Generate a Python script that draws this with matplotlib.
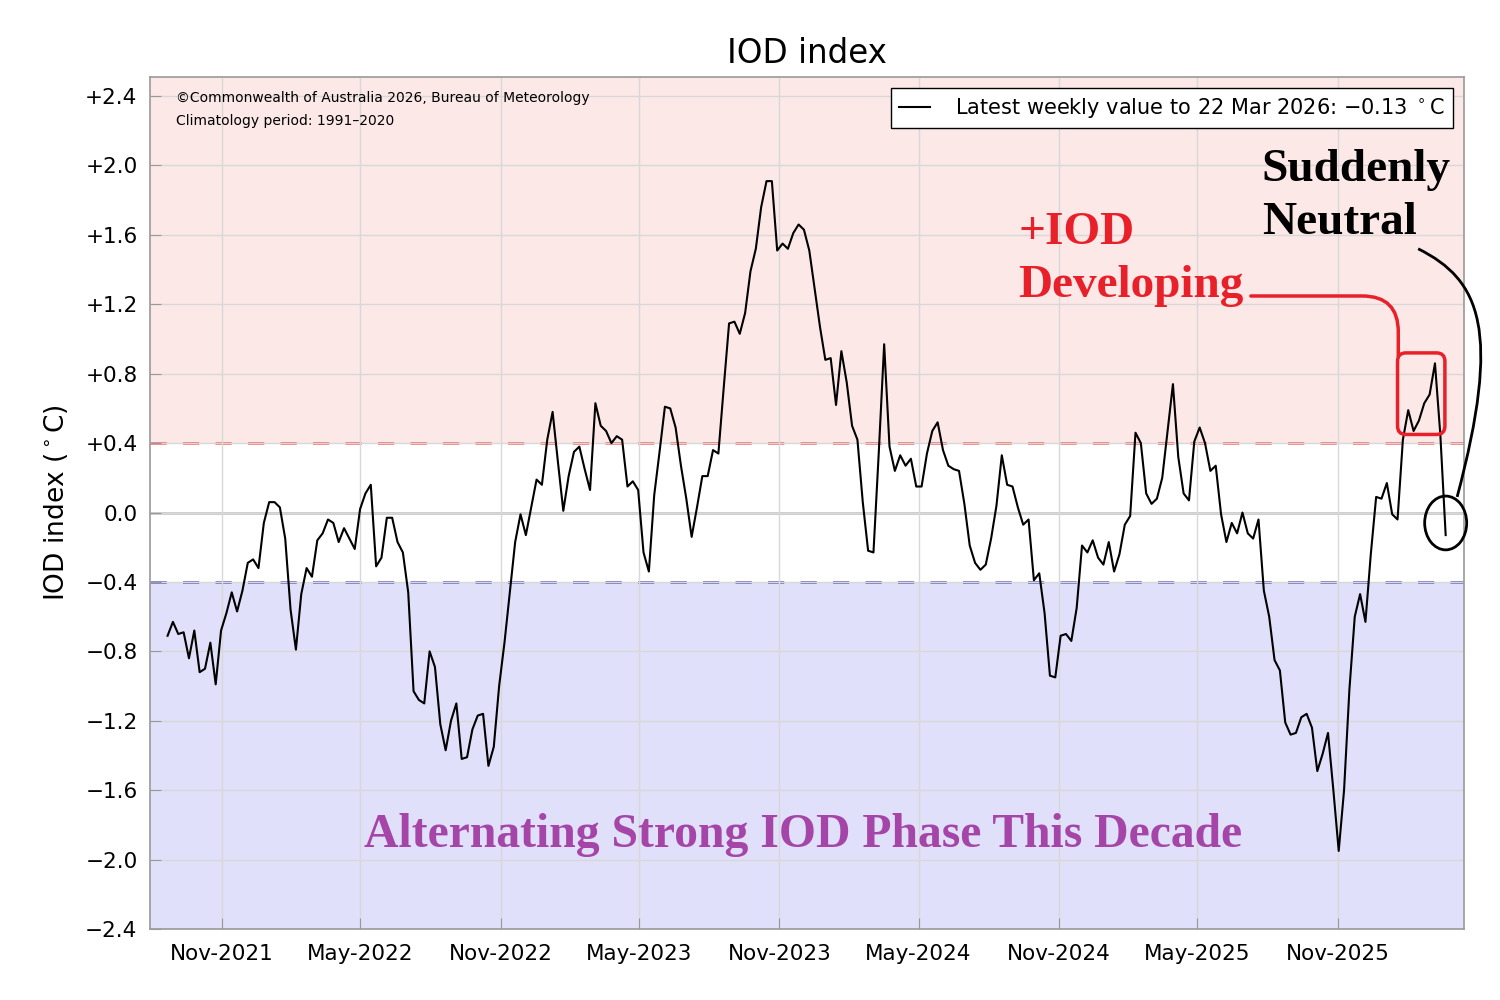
# IOD index weekly values with annotations (BoM style chart)

import numpy as np
import pandas as pd
import matplotlib
matplotlib.use('Agg')
import matplotlib.pyplot as plt
import matplotlib.dates as mdates
from matplotlib.ticker import FixedLocator, FuncFormatter
from matplotlib.patches import Ellipse, FancyBboxPatch, PathPatch
from matplotlib.path import Path

# weekly IOD values (degC), ending 22 Mar 2026
iod = [
    -0.71, -0.63, -0.70, -0.69, -0.84, -0.68, -0.92, -0.90, -0.75, -0.99,
    -0.68, -0.58, -0.46, -0.57, -0.45, -0.29, -0.27, -0.32, -0.06, 0.06,
    0.06, 0.03, -0.15, -0.56, -0.79, -0.47, -0.32, -0.37, -0.16, -0.12,
    -0.04, -0.06, -0.17, -0.09, -0.15, -0.21, 0.02, 0.11, 0.16, -0.31,
    -0.26, -0.03, -0.03, -0.17, -0.23, -0.46, -1.03, -1.08, -1.10, -0.80,
    -0.89, -1.22, -1.37, -1.20, -1.10, -1.42, -1.41, -1.25, -1.17, -1.16,
    -1.46, -1.35, -1.00, -0.75, -0.46, -0.17, -0.01, -0.13, 0.03, 0.19,
    0.16, 0.42, 0.58, 0.29, 0.01, 0.21, 0.35, 0.38, 0.25, 0.13,
    0.63, 0.50, 0.47, 0.40, 0.44, 0.42, 0.15, 0.18, 0.13, -0.23,
    -0.34, 0.10, 0.35, 0.61, 0.60, 0.49, 0.27, 0.08, -0.14, 0.03,
    0.21, 0.21, 0.36, 0.34, 0.72, 1.09, 1.10, 1.03, 1.15, 1.39,
    1.52, 1.76, 1.91, 1.91, 1.51, 1.55, 1.52, 1.61, 1.66, 1.63,
    1.51, 1.29, 1.07, 0.88, 0.89, 0.62, 0.93, 0.75, 0.50, 0.42,
    0.06, -0.22, -0.23, 0.35, 0.97, 0.38, 0.24, 0.33, 0.27, 0.31,
    0.15, 0.15, 0.34, 0.47, 0.52, 0.36, 0.27, 0.25, 0.24, 0.05,
    -0.19, -0.29, -0.33, -0.30, -0.15, 0.04, 0.33, 0.16, 0.15, 0.03,
    -0.07, -0.04, -0.39, -0.35, -0.58, -0.94, -0.95, -0.71, -0.70, -0.74,
    -0.55, -0.19, -0.23, -0.16, -0.26, -0.30, -0.17, -0.34, -0.24, -0.07,
    -0.02, 0.46, 0.40, 0.11, 0.05, 0.08, 0.20, 0.47, 0.74, 0.32,
    0.11, 0.07, 0.41, 0.49, 0.40, 0.24, 0.27, -0.01, -0.17, -0.06,
    -0.12, 0.00, -0.12, -0.15, -0.04, -0.45, -0.60, -0.85, -0.91, -1.21,
    -1.28, -1.27, -1.18, -1.16, -1.24, -1.49, -1.39, -1.27, -1.60, -1.95,
    -1.60, -1.02, -0.60, -0.47, -0.63, -0.24, 0.09, 0.08, 0.17, -0.01,
    -0.04, 0.42, 0.59, 0.47, 0.53, 0.63, 0.68, 0.86, 0.45, -0.13,
]
last_date = '2026-03-22'
dates = pd.date_range(end=last_date, periods=len(iod), freq='7D')

yticks = [-2.4, -2.0, -1.6, -1.2, -0.8, -0.4, 0.0, 0.4, 0.8, 1.2, 1.6, 2.0, 2.4]
threshold = 0.4
legend_label = 'Latest weekly value to 22 Mar 2026: \u22120.13 $^\\circ$C'

pink = '#fde8e8'
lavender = '#e0e0fa'

fig = plt.figure(figsize=(15, 10), dpi=100)
ax = fig.add_axes([0.1, 0.071, 0.876, 0.852])

xmin, xmax = pd.Timestamp('2021-07-30'), pd.Timestamp('2026-04-15')
ymin, ymax = -2.4, 2.51

# background bands
ax.axhspan(threshold, ymax, color=pink, zorder=0, lw=0)
ax.axhspan(ymin, -threshold, color=lavender, zorder=0, lw=0)

ax.grid(True, color='#d8d8d8', lw=1, zorder=1)
ax.axhline(0, color='#c8c8c8', lw=2, zorder=1.5)
ax.axhline(threshold, color='#f05a5a', lw=1.8, ls=(0, (6.5, 6.5)), zorder=1.5)
ax.axhline(-threshold, color='#5858b8', lw=1.8, ls=(0, (6.5, 6.5)), zorder=1.5)

ax.plot(dates, iod, color='k', lw=1.5, zorder=3, label=legend_label)

ax.set_xlim(xmin, xmax)
ax.set_ylim(ymin, ymax)

ax.xaxis.set_major_locator(mdates.MonthLocator(bymonth=[5, 11]))
ax.xaxis.set_major_formatter(mdates.DateFormatter('%b-%Y'))
ax.yaxis.set_major_locator(FixedLocator(yticks))


def fmt(v, pos):
    if abs(v) < 1e-9:
        return '0.0'
    return ('+%.1f' % v) if v > 0 else '\u2212%.1f' % abs(v)


ax.yaxis.set_major_formatter(FuncFormatter(fmt))
ax.tick_params(axis='both', direction='in', length=8, color='#999999', labelsize=15.5)
ax.tick_params(axis='x', pad=11)
ax.tick_params(axis='y', pad=9)
for s in ax.spines.values():
    s.set_color('#999999')
    s.set_linewidth(1.2)

ax.set_title('IOD index', fontsize=23.5, pad=10)
ax.set_ylabel('IOD index ($^\\circ$C)', fontsize=19, labelpad=11)

ax.text(0.02, 0.983, '\u00a9Commonwealth of Australia 2026, Bureau of Meteorology',
        transform=ax.transAxes, fontsize=10, va='top', ha='left')
ax.text(0.0195, 0.957, 'Climatology period: 1991\u20132020',
        transform=ax.transAxes, fontsize=10, va='top', ha='left')

leg = ax.legend(loc='upper right', fontsize=15, handlelength=1.5, fancybox=False,
                framealpha=1, edgecolor='k', borderaxespad=0.55, borderpad=0.38,
                handletextpad=1.2)
leg.get_frame().set_linewidth(1.0)

# annotations
serif = 'Liberation Serif'
ax.text(0.6606, 0.842, '+IOD\nDeveloping', transform=ax.transAxes, fontsize=34,
        family=serif, weight='bold', color='#e8202a', va='top', ha='left',
        linespacing=1.36)
ax.text(0.846, 0.916, 'Suddenly\nNeutral', transform=ax.transAxes, fontsize=34,
        family=serif, weight='bold', color='k', va='top', ha='left',
        linespacing=1.36)
ax.text(0.497, 0.11, 'Alternating Strong IOD Phase This Decade', transform=ax.transAxes,
        fontsize=34.3, family=serif, weight='bold', color='#a545a8', va='center',
        ha='center')

# red box around the recent positive run
bx0 = mdates.date2num(dates[230])
bx1 = mdates.date2num(dates[-1]) - 1
by0 = threshold + 0.05
by1 = max(iod[231:239]) + 0.06
box = FancyBboxPatch((bx0, by0), bx1 - bx0, by1 - by0,
                     boxstyle='round,pad=0,rounding_size=11', mutation_aspect=0.0044,
                     fc='none', ec='#e8202a', lw=2.5, zorder=4)
ax.add_patch(box)

ax.annotate('', xy=(bx0 + 1, by1 - 0.02), xytext=(pd.Timestamp('2025-07-10'), 1.248),
            arrowprops=dict(arrowstyle='-', color='#e8202a', lw=2.5, shrinkA=0, shrinkB=0,
                            connectionstyle='angle,angleA=0,angleB=90,rad=36'),
            annotation_clip=False, zorder=4)

# ellipse around latest value
ex = mdates.date2num(dates[-1])
ey = iod[-1] + 0.07
ell = Ellipse((ex, ey), 55, 0.31, fc='none', ec='k', lw=2, zorder=4, clip_on=False)
ax.add_patch(ell)

# curved pointer from "Neutral" down to the ellipse
pts = [(ex - 36, 1.52), (ex + 46, 1.34), (ex + 73, 1.05), (ex + 15, 0.09)]
curve = Path(pts, [Path.MOVETO, Path.CURVE4, Path.CURVE4, Path.CURVE4])
ax.add_patch(PathPatch(curve, fc='none', ec='k', lw=2, zorder=4, clip_on=False))

fig.savefig('out.png', dpi=100)
